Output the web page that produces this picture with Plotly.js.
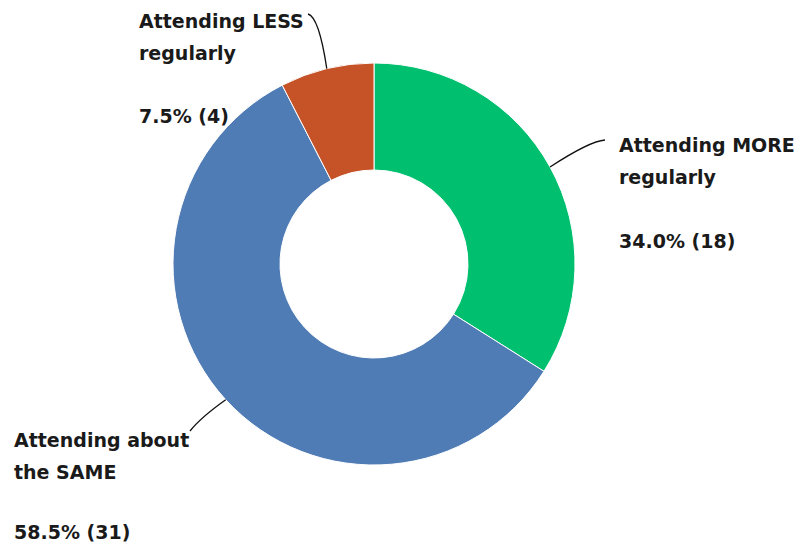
<!DOCTYPE html>
<html>
<head>
<meta charset="utf-8">
<script src="https://cdn.plot.ly/plotly-3.0.1.min.js"></script>
<style>html,body{margin:0;padding:0;background:#fff;}#chart{width:804px;height:544px;}</style>
</head>
<body>
<div id="chart"></div>
<script>
// ---- data ----
var categories = ['Attending MORE regularly', 'Attending about the SAME', 'Attending LESS regularly'];
var labelLines = [['Attending MORE', 'regularly'], ['Attending about', 'the SAME'], ['Attending LESS', 'regularly']];
var counts = [18, 31, 4];
var percentLabels = ['34.0%', '58.5%', '7.5%'];
var colors = ['#00BF6F', '#507CB6', '#C65228'];

// ---- layout helpers ----
var W = 804, H = 544;
var cx = 374, cy = 264, R = 201, holeR = 94;
function px(x) { return x / W; }
function py(y) { return 1 - y / H; }

// label placement (text left edge, first baseline, value-line offset) and leader end/control points
var labelPos = [
  {x: 617, base: 152, valOff: 96, end: [605, 140], ctrl: [590, 141]},
  {x: 12,  base: 447, valOff: 92, end: [190, 431], ctrl: [200, 418]},
  {x: 137, base: 28,  valOff: 95, end: [308, 14],  ctrl: [319, 17]}
];
var fontSize = 19;
var pitch = 32;

var total = counts.reduce(function (a, b) { return a + b; }, 0);
var annotations = [];
var shapes = [];
var cum = 0;
for (var i = 0; i < counts.length; i++) {
  var mid = (cum + counts[i] / 2) / total * 2 * Math.PI;
  cum += counts[i];
  var sx = cx + R * Math.sin(mid), sy = cy - R * Math.cos(mid);
  var p = labelPos[i];
  shapes.push({
    type: 'path', xref: 'paper', yref: 'paper',
    path: 'M ' + px(sx) + ',' + py(sy) + ' Q ' + px(p.ctrl[0]) + ',' + py(p.ctrl[1]) + ' ' + px(p.end[0]) + ',' + py(p.end[1]),
    line: {color: '#111111', width: 1.3}
  });
  var lines = [
    {t: labelLines[i][0], b: p.base},
    {t: labelLines[i][1], b: p.base + pitch},
    {t: percentLabels[i] + ' (' + counts[i] + ')', b: p.base + p.valOff}
  ];
  for (var k = 0; k < lines.length; k++) {
    annotations.push({
      xref: 'paper', yref: 'paper', x: px(p.x), y: py(lines[k].b - 0.35 * fontSize),
      xanchor: 'left', yanchor: 'middle', align: 'left', showarrow: false,
      text: lines[k].t,
      font: {family: 'DejaVu Sans', size: fontSize, color: '#1a1a1a', weight: 'bold'}
    });
  }
}

var trace = {
  type: 'pie',
  labels: categories,
  values: counts,
  sort: false,
  direction: 'clockwise',
  rotation: 0,
  hole: holeR / R,
  textinfo: 'none',
  hoverinfo: 'label+value+percent',
  marker: {colors: colors, line: {color: '#ffffff', width: 1}},
  domain: {x: [(cx - R) / W, (cx + R) / W], y: [1 - (cy + R) / H, 1 - (cy - R) / H]},
  showlegend: false
};

var layout = {
  width: W, height: H,
  margin: {l: 0, r: 0, t: 0, b: 0},
  paper_bgcolor: '#ffffff',
  showlegend: false,
  annotations: annotations,
  shapes: shapes
};

Plotly.newPlot('chart', [trace], layout, {displayModeBar: false, staticPlot: true});
</script>
</body>
</html>
